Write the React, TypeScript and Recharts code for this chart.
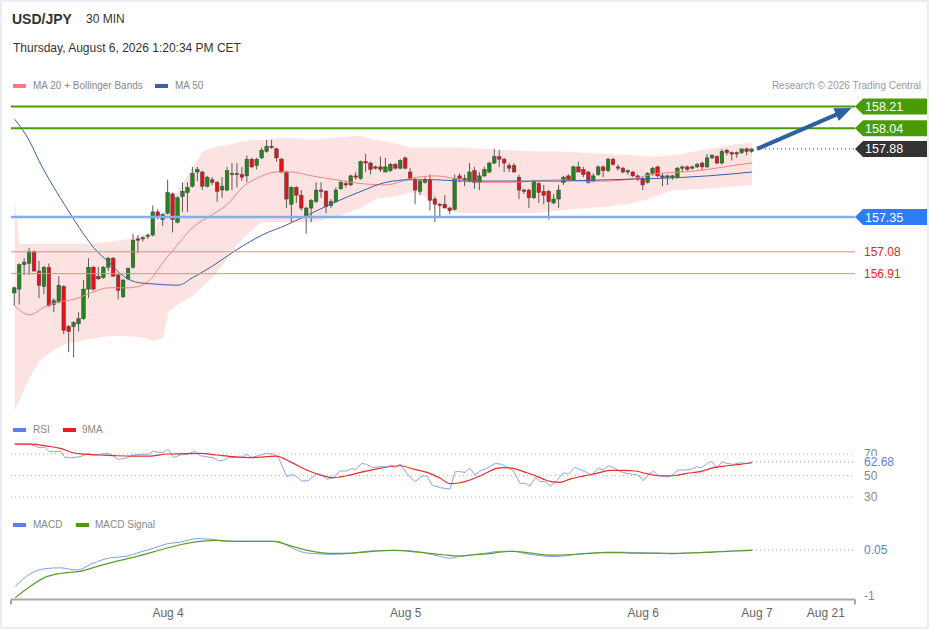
import React from 'react';
import {
    ComposedChart, Bar, Line, Area, XAxis, YAxis, ReferenceLine,
} from 'recharts';

// 30-minute candles, oldest first (150 bars)
const opens = [
    156.76, 156.79, 156.98, 156.99, 157.08, 156.93, 156.81, 156.96, 156.67, 156.69,
    156.81, 156.50, 156.50, 156.52, 156.56, 156.79, 156.96, 156.89, 156.88, 156.96,
    157.03, 156.90, 156.73, 156.87, 156.96, 157.18, 157.18, 157.20, 157.21, 157.39,
    157.33, 157.38, 157.53, 157.31, 157.51, 157.54, 157.59, 157.70, 157.70, 157.59,
    157.64, 157.62, 157.56, 157.56, 157.69, 157.68, 157.68, 157.67, 157.80, 157.75,
    157.81, 157.86, 157.90, 157.88, 157.80, 157.70, 157.45, 157.58, 157.52, 157.35,
    157.42, 157.47, 157.56, 157.55, 157.44, 157.47, 157.57, 157.61, 157.60, 157.67,
    157.65, 157.78, 157.77, 157.73, 157.74, 157.70, 157.71, 157.76, 157.73, 157.81,
    157.70, 157.64, 157.55, 157.62, 157.64, 157.49, 157.45, 157.45, 157.42, 157.41,
    157.67, 157.65, 157.63, 157.71, 157.62, 157.67, 157.70, 157.77, 157.82, 157.80,
    157.75, 157.75, 157.66, 157.56, 157.56, 157.50, 157.61, 157.55, 157.55, 157.46,
    157.49, 157.62, 157.67, 157.64, 157.74, 157.72, 157.70, 157.63, 157.68, 157.74,
    157.71, 157.80, 157.74, 157.73, 157.71, 157.70, 157.67, 157.65, 157.62, 157.69,
    157.74, 157.67, 157.66, 157.66, 157.66, 157.73, 157.74, 157.73, 157.74, 157.77,
    157.74, 157.81, 157.82, 157.77, 157.87, 157.85, 157.85, 157.85, 157.88, 157.86,
];
const highs = [
    156.81, 156.99, 157.03, 157.11, 157.09, 157.01, 156.97, 156.99, 156.72, 156.89,
    156.82, 156.51, 156.54, 156.61, 156.86, 157.03, 156.97, 156.96, 156.97, 157.04,
    157.04, 156.91, 156.87, 156.96, 157.22, 157.21, 157.20, 157.22, 157.44, 157.41,
    157.38, 157.64, 157.54, 157.51, 157.62, 157.62, 157.74, 157.74, 157.71, 157.67,
    157.66, 157.63, 157.66, 157.74, 157.77, 157.77, 157.74, 157.83, 157.81, 157.81,
    157.89, 157.95, 157.95, 157.89, 157.81, 157.71, 157.59, 157.59, 157.56, 157.43,
    157.49, 157.62, 157.62, 157.56, 157.49, 157.58, 157.63, 157.63, 157.68, 157.70,
    157.79, 157.84, 157.78, 157.75, 157.82, 157.81, 157.77, 157.77, 157.80, 157.82,
    157.73, 157.66, 157.64, 157.66, 157.68, 157.51, 157.46, 157.52, 157.43, 157.68,
    157.69, 157.68, 157.77, 157.74, 157.70, 157.74, 157.78, 157.88, 157.87, 157.81,
    157.77, 157.77, 157.68, 157.57, 157.57, 157.63, 157.62, 157.60, 157.56, 157.53,
    157.60, 157.67, 157.68, 157.75, 157.78, 157.74, 157.71, 157.69, 157.75, 157.75,
    157.81, 157.81, 157.76, 157.74, 157.72, 157.71, 157.68, 157.66, 157.70, 157.74,
    157.75, 157.69, 157.68, 157.68, 157.74, 157.75, 157.75, 157.75, 157.77, 157.78,
    157.84, 157.84, 157.83, 157.88, 157.88, 157.86, 157.86, 157.88, 157.89, 157.88,
];
const lows = [
    156.66, 156.67, 156.90, 156.90, 156.93, 156.72, 156.75, 156.65, 156.61, 156.68,
    156.44, 156.30, 156.26, 156.46, 156.55, 156.72, 156.78, 156.86, 156.87, 156.93,
    156.89, 156.71, 156.72, 156.86, 156.95, 157.07, 157.16, 157.18, 157.20, 157.33,
    157.28, 157.37, 157.23, 157.30, 157.39, 157.39, 157.58, 157.63, 157.56, 157.58,
    157.60, 157.47, 157.50, 157.55, 157.56, 157.58, 157.63, 157.62, 157.73, 157.72,
    157.80, 157.85, 157.88, 157.78, 157.69, 157.42, 157.31, 157.46, 157.40, 157.22,
    157.31, 157.46, 157.50, 157.38, 157.42, 157.46, 157.56, 157.58, 157.59, 157.64,
    157.64, 157.70, 157.68, 157.72, 157.70, 157.70, 157.70, 157.72, 157.72, 157.72,
    157.64, 157.45, 157.52, 157.61, 157.40, 157.31, 157.35, 157.42, 157.37, 157.40,
    157.62, 157.59, 157.62, 157.57, 157.56, 157.66, 157.69, 157.76, 157.74, 157.70,
    157.70, 157.70, 157.49, 157.53, 157.42, 157.49, 157.46, 157.45, 157.33, 157.45,
    157.42, 157.60, 157.63, 157.63, 157.70, 157.66, 157.61, 157.62, 157.67, 157.66,
    157.70, 157.75, 157.71, 157.69, 157.68, 157.66, 157.63, 157.56, 157.61, 157.67,
    157.66, 157.59, 157.60, 157.64, 157.65, 157.70, 157.71, 157.72, 157.73, 157.71,
    157.73, 157.80, 157.76, 157.76, 157.83, 157.79, 157.81, 157.84, 157.83, 157.85,
];
const closes = [
    156.80, 156.98, 157.00, 157.08, 156.93, 156.82, 156.96, 156.66, 156.70, 156.82,
    156.47, 156.46, 156.53, 156.56, 156.79, 156.96, 156.79, 156.87, 156.96, 157.03,
    156.89, 156.78, 156.86, 156.95, 157.17, 157.17, 157.19, 157.21, 157.39, 157.35,
    157.37, 157.54, 157.33, 157.50, 157.55, 157.58, 157.69, 157.72, 157.59, 157.66,
    157.62, 157.55, 157.59, 157.71, 157.68, 157.69, 157.66, 157.80, 157.74, 157.80,
    157.87, 157.90, 157.89, 157.81, 157.70, 157.49, 157.58, 157.52, 157.42, 157.42,
    157.48, 157.56, 157.55, 157.43, 157.47, 157.56, 157.62, 157.60, 157.67, 157.66,
    157.78, 157.77, 157.72, 157.74, 157.72, 157.74, 157.76, 157.73, 157.79, 157.73,
    157.65, 157.56, 157.63, 157.64, 157.48, 157.45, 157.44, 157.42, 157.40, 157.65,
    157.65, 157.64, 157.70, 157.62, 157.67, 157.72, 157.77, 157.82, 157.80, 157.77,
    157.73, 157.70, 157.56, 157.55, 157.50, 157.63, 157.54, 157.52, 157.47, 157.49,
    157.56, 157.66, 157.64, 157.74, 157.70, 157.68, 157.62, 157.67, 157.74, 157.71,
    157.80, 157.76, 157.73, 157.70, 157.70, 157.67, 157.65, 157.60, 157.69, 157.73,
    157.67, 157.66, 157.67, 157.67, 157.73, 157.74, 157.72, 157.74, 157.76, 157.74,
    157.81, 157.83, 157.77, 157.86, 157.85, 157.84, 157.84, 157.88, 157.86, 157.88,
];

// MA 20 + Bollinger bands and MA 50, read at selected bar indexes
const bandIdx = [0, 1, 3, 5, 8, 10, 15, 20, 24, 26, 28, 30, 31, 33, 36, 38, 40, 43, 45, 48, 50, 55, 60, 65, 70, 73, 75, 78, 80, 82, 85, 88, 90, 95, 100, 105, 110, 115, 120, 125, 128, 130, 133, 135, 140, 145, 149];
const bandUpper = [157.49, 157.14, 157.14, 157.14, 157.14, 157.14, 157.14, 157.16, 157.19, 157.21, 157.24, 157.38, 157.45, 157.55, 157.74, 157.86, 157.89, 157.91, 157.93, 157.95, 157.95, 157.97, 157.95, 157.97, 157.98, 157.95, 157.94, 157.91, 157.89, 157.89, 157.89, 157.89, 157.89, 157.88, 157.87, 157.86, 157.86, 157.85, 157.84, 157.83, 157.82, 157.82, 157.83, 157.84, 157.88, 157.91, 157.93];
const bandLower = [155.85, 155.93, 156.10, 156.23, 156.32, 156.36, 156.40, 156.43, 156.42, 156.41, 156.39, 156.41, 156.61, 156.67, 156.74, 156.81, 156.88, 157.03, 157.14, 157.25, 157.31, 157.31, 157.31, 157.35, 157.42, 157.49, 157.50, 157.52, 157.54, 157.53, 157.45, 157.40, 157.38, 157.38, 157.38, 157.38, 157.40, 157.42, 157.43, 157.46, 157.49, 157.52, 157.56, 157.56, 157.57, 157.59, 157.60];
const ma20Idx = [0, 3, 6, 9, 12, 16, 19, 23, 25, 27, 30, 33, 36, 40, 43, 46, 50, 53, 56, 60, 65, 70, 75, 80, 85, 90, 95, 100, 105, 110, 115, 120, 125, 130, 135, 140, 145, 149];
const ma20 = [156.66, 156.59, 156.65, 156.69, 156.71, 156.77, 156.80, 156.80, 156.81, 156.85, 157.00, 157.14, 157.27, 157.37, 157.45, 157.58, 157.67, 157.70, 157.70, 157.67, 157.64, 157.61, 157.60, 157.65, 157.67, 157.64, 157.62, 157.62, 157.63, 157.64, 157.63, 157.63, 157.65, 157.69, 157.70, 157.72, 157.75, 157.77];
const ma50Idx = [0, 3, 5, 7, 10, 13, 16, 19, 22, 25, 28, 33, 36, 40, 45, 50, 55, 60, 65, 70, 75, 80, 85, 90, 100, 110, 120, 130, 140, 149];
const ma50 = [158.11, 157.94, 157.78, 157.64, 157.45, 157.27, 157.11, 157.00, 156.89, 156.84, 156.83, 156.82, 156.88, 156.97, 157.10, 157.21, 157.29, 157.38, 157.47, 157.55, 157.62, 157.64, 157.64, 157.63, 157.63, 157.63, 157.64, 157.65, 157.67, 157.70];

// projected move towards the first target
const arrowIdx = [150, 168];
const arrowVal = [157.88, 158.18];

// key levels
const resistances = [158.21, 158.04];
const pivot = 157.35;
const supports = [157.08, 156.91];
const lastPrice = 157.88;

// RSI and its 9-period average
const rsiIdx = [0, 3.1, 4.8, 6.1, 7, 8.1, 9.2, 10.2, 11.5, 13.2, 14.9, 15.9, 17.2, 18.9, 19.9, 20.9, 22.3, 24, 25.3, 27, 28, 29, 30, 31, 32.1, 33.4, 34.8, 36.4, 37.5, 38.8, 40.1, 41.2, 42.2, 43.5, 44.9, 45.9, 46.9, 47.9, 49.2, 50.9, 52.3, 53.3, 55, 56, 57, 58, 59.3, 61, 62, 63.1, 64.4, 65.7, 67.1, 68.1, 68.8, 70.1, 71.1, 72.2, 73.8, 75.2, 76.2, 76.9, 77.9, 79.5, 80.9, 82.3, 83.3, 84.3, 86, 88, 89, 90, 91, 92, 93, 94, 95.4, 97.1, 98.4, 99.4, 100.8, 102.1, 103.1, 104.1, 105.2, 106.2, 107.2, 108.2, 109.5, 110.9, 111.9, 113.2, 114.2, 115.6, 116.6, 117.9, 118.9, 119.9, 121, 122.4, 123.7, 125, 126, 127, 128, 129.1, 130.1, 131.1, 132.4, 134.1, 135.5, 136.8, 137.8, 138.8, 140.2, 140.9, 141.9, 142.9, 143.9, 145.2, 146.6, 147.9, 149];
const rsi = [79.3, 79.3, 76.2, 76.2, 72.2, 72.2, 72.8, 66.6, 66.6, 67.5, 70.6, 69.1, 69.7, 70.6, 68.4, 65.0, 66.0, 69.1, 69.7, 69.7, 72.8, 71.6, 71.6, 74.3, 66.6, 69.1, 69.7, 72.8, 68.4, 67.5, 66.6, 63.5, 64.4, 66.9, 66.6, 66.6, 69.7, 66.9, 68.4, 70.6, 70.0, 66.6, 48.9, 51.1, 48.9, 44.9, 45.2, 51.7, 51.1, 46.4, 48.0, 54.2, 54.2, 56.7, 55.1, 61.3, 60.4, 57.6, 58.2, 58.2, 59.8, 57.3, 60.7, 50.5, 44.3, 49.5, 49.5, 41.2, 38.7, 37.4, 53.6, 53.6, 52.9, 56.7, 50.5, 54.2, 56.7, 61.3, 60.4, 58.2, 54.2, 42.7, 42.7, 40.2, 48.0, 44.3, 44.3, 40.2, 44.9, 52.6, 51.4, 57.6, 55.7, 52.9, 50.5, 56.7, 55.1, 59.1, 57.3, 53.6, 52.0, 51.1, 50.5, 45.2, 50.5, 54.2, 49.8, 48.9, 48.9, 55.1, 55.1, 56.0, 58.2, 57.3, 62.2, 62.9, 56.7, 62.9, 61.3, 60.4, 61.9, 61.3, 62.68];
const rsiMaIdx = [0, 3.1, 6.5, 9.2, 11.8, 14.6, 17.2, 20.6, 24, 27.3, 30.7, 34.1, 37.5, 40.8, 44.2, 47.6, 50.9, 52.9, 55.6, 59, 61.7, 64.4, 67.1, 70.5, 73.8, 77.9, 80.6, 83.3, 86, 88, 90, 92, 94, 96.1, 97.4, 98.7, 100.8, 102.8, 104.8, 106.8, 108.5, 110.2, 112.2, 114.9, 117.6, 120.3, 123, 125.4, 127.7, 130.4, 133.1, 135.8, 138.5, 141.2, 143.9, 146.6, 149];
const rsiMa = [79.3, 79.3, 77.4, 75.3, 71.2, 69.7, 69.1, 68.4, 68.1, 68.1, 70.0, 70.3, 70.6, 69.1, 67.5, 66.6, 67.5, 68.1, 62.9, 55.1, 50.5, 48.0, 49.8, 53.6, 56.7, 59.1, 56.0, 52.9, 47.4, 42.4, 43.3, 45.8, 49.5, 54.2, 56.7, 57.3, 56.7, 53.6, 50.5, 46.7, 44.3, 43.6, 46.7, 49.5, 52.0, 54.8, 54.8, 54.2, 51.7, 49.8, 49.8, 52.0, 53.6, 57.3, 59.1, 60.4, 61.9];
const rsiLevels = [70, 50, 30];
const rsiLast = 62.68;

// MACD and signal
const macdIdx = [0.1, 3.1, 6.1, 9.2, 12.5, 15.9, 19.3, 22.3, 25.3, 28, 30.7, 33.4, 36.8, 39.5, 42.8, 46.2, 49.6, 52.9, 56.3, 59, 64.4, 68.4, 71.1, 75.2, 78.5, 81.9, 85.3, 88, 90, 92.7, 95.4, 98.1, 100.8, 103.5, 106.2, 108.9, 111.6, 114.2, 116.9, 119.6, 122.3, 125, 127.7, 130.4, 133.1, 135.8, 138.5, 141.2, 143.9, 146.6, 149];
const macd = [-0.79, -0.50, -0.38, -0.36, -0.41, -0.25, -0.13, -0.10, 0.00, 0.09, 0.19, 0.23, 0.31, 0.30, 0.25, 0.25, 0.25, 0.25, 0.08, -0.02, -0.05, -0.02, 0.02, 0.04, 0.04, 0.00, -0.08, -0.14, -0.09, -0.06, -0.02, 0.02, 0.02, -0.04, -0.08, -0.10, -0.08, -0.04, -0.02, 0.00, 0.00, -0.01, -0.02, -0.03, -0.04, -0.02, -0.01, 0.01, 0.02, 0.04, 0.05];
const signalIdx = [0.1, 3.1, 6.1, 9.2, 13.2, 17.2, 21.3, 25.3, 29.4, 33.4, 37.5, 40.8, 44.2, 47.6, 52.3, 55.6, 59.7, 64.4, 68.4, 72.5, 76.5, 79.9, 83.3, 86.6, 90, 92.7, 95.4, 98.1, 100.8, 103.5, 106.2, 108.9, 111.6, 114.2, 116.9, 119.6, 122.3, 125, 127.7, 130.4, 133.1, 135.8, 138.5, 141.2, 143.9, 146.6, 149];
const signal = [-1.05, -0.79, -0.58, -0.49, -0.44, -0.31, -0.19, -0.08, 0.05, 0.17, 0.25, 0.27, 0.25, 0.25, 0.25, 0.15, 0.03, -0.03, -0.02, 0.02, 0.04, 0.02, -0.02, -0.06, -0.09, -0.06, -0.04, 0.00, 0.02, -0.01, -0.05, -0.07, -0.06, -0.04, -0.02, -0.01, -0.01, -0.02, -0.02, -0.02, -0.03, -0.02, -0.01, 0.00, 0.02, 0.03, 0.04];
const macdLast = 0.05;

// x axis (bar index)
const tickIdx = [31, 79, 127, 150, 163.9];
const tickLabels = ['Aug 4', 'Aug 5', 'Aug 6', 'Aug 7', 'Aug 21'];

const W = 929;
const H = 629;
const X_DOMAIN: [number, number] = [-0.75, 169.8];
const FONT = '"Liberation Sans", Arial, Helvetica, sans-serif';

// Merge several (index, value) series into one row table keyed by bar index
function mergeRows(base: any[], series: [string, number[], number[]][]) {
    const map = new Map<number, any>();
    base.forEach((r) => map.set(r.i, { ...r }));
    series.forEach(([key, idx, vals]) => idx.forEach((i, k) => {
        const row = map.get(i) ?? { i };
        row[key] = vals[k];
        map.set(i, row);
    }));
    return [...map.values()].sort((a, b) => a.i - b.i);
}

const candleRows = opens.map((o, k) => ({ i: k, o, h: highs[k], l: lows[k], c: closes[k] }));
const mainRows = mergeRows(candleRows, [
    ['up', bandIdx, bandUpper],
    ['lo', bandIdx, bandLower],
    ['ma20', ma20Idx, ma20],
    ['ma50', ma50Idx, ma50],
    ['arrow', arrowIdx, arrowVal],
]);
const rsiRows = mergeRows([], [['rsi', rsiIdx, rsi], ['rsiMa', rsiMaIdx, rsiMa]]);
const macdRows = mergeRows([], [['macd', macdIdx, macd], ['signal', signalIdx, signal]]);

// Candle drawn inside the [low, high] bar the library positions for us
function Candle(props: any) {
    const { x, y, width, height, payload } = props;
    if (payload?.o == null || !(height > 0)) return null;
    const { o, h, l, c } = payload;
    const toY = (v: number) => y + ((h - v) / (h - l)) * height;
    const cx = x + width / 2;
    const top = toY(Math.max(o, c));
    const bot = toY(Math.min(o, c));
    return (
        <g>
            <line x1={cx} x2={cx} y1={y} y2={y + height} stroke="#5a5a5a" strokeWidth={1} />
            <rect
                x={cx - 1.8} y={top} width={3.6} height={Math.max(bot - top, 1)}
                fill={c >= o ? '#22841b' : '#e5121a'} stroke="#444" strokeWidth={0.5}
            />
        </g>
    );
}

// Price tag with a pointed left edge, placed just right of the plot
function Tag({ viewBox, text, bg }: any) {
    const left = viewBox.x + viewBox.width;
    const cy = viewBox.y;
    return (
        <g>
            <path d={`M${left},${cy} L${left + 8},${cy - 8} H${left + 72} V${cy + 8} H${left + 8} Z`} fill={bg} />
            <text x={left + 10} y={cy} dy="0.36em" fill="#fff" fontSize={12.5}>{text}</text>
        </g>
    );
}

function SideText({ viewBox, text, color, clear }: any) {
    const x = viewBox.x + viewBox.width + 9;
    const cy = viewBox.y;
    return (
        <g>
            {clear && <rect x={x - 1} y={cy - 6} width={36} height={13} fill="#fff" />}
            <text x={x} y={cy} dy="0.36em" fill={color} fontSize={12}>{text}</text>
        </g>
    );
}

function DateTick({ x, y, payload }: any) {
    const k = tickIdx.indexOf(payload.value);
    if (k < 0) return <line x1={x} x2={x} y1={y} y2={y + 5} stroke="#a8a8a8" strokeWidth={2} />;
    return <text x={x} y={y} dy={17} textAnchor="middle" fill="#666" fontSize={12}>{tickLabels[k]}</text>;
}

function Swatch({ left, top, color }: { left: number; top: number; color: string }) {
    return <div style={{ position: 'absolute', left, top, width: 13, height: 4, background: color }} />;
}

function Txt({ left, top, size, color, children, bold, right }: any) {
    return (
        <div style={{
            position: 'absolute', left, right, top, fontSize: size, lineHeight: `${size}px`,
            color, fontWeight: bold ? 700 : 400, whiteSpace: 'nowrap',
        }}>{children}</div>
    );
}

const layer: React.CSSProperties = { position: 'absolute', left: 0, top: 0 };

export default function App() {
    return (
        <div style={{ position: 'relative', width: W, height: H, background: '#fff', fontFamily: FONT, overflow: 'hidden' }}>
            <style>{'body{margin:0}'}</style>
            <svg width={0} height={0} style={{ position: 'absolute' }}>
                <defs>
                    <marker id="tgtArrow" viewBox="0 0 17 14" markerWidth={17} markerHeight={14} refX={11} refY={7} orient="auto" markerUnits="userSpaceOnUse">
                        <path d="M0,0 L17,7 L0,14 Z" fill="#2f5f9f" />
                    </marker>
                </defs>
            </svg>

            {/* header */}
            <Txt left={12} top={12} size={14} color="#333" bold>USD/JPY</Txt>
            <Txt left={86} top={13} size={12} color="#333">30 MIN</Txt>
            <Txt left={13} top={42} size={12} color="#333">Thursday, August 6, 2026 1:20:34 PM CET</Txt>
            <Swatch left={13} top={84} color="#f77b7b" />
            <Txt left={33} top={81} size={10} color="#888">MA 20 + Bollinger Bands</Txt>
            <Swatch left={155} top={84} color="#3b5fa6" />
            <Txt left={175} top={81} size={10} color="#888">MA 50</Txt>
            <Txt right={8} top={81} size={10} color="#999">Research © 2026 Trading Central</Txt>

            <Swatch left={13} top={428} color="#5b82e0" />
            <Txt left={33} top={425} size={10} color="#888">RSI</Txt>
            <Swatch left={63} top={428} color="#ee1c1c" />
            <Txt left={82} top={425} size={10} color="#888">9MA</Txt>

            <Swatch left={13} top={523} color="#5b82e0" />
            <Txt left={33} top={520} size={10} color="#888">MACD</Txt>
            <Swatch left={76} top={523} color="#4c9a10" />
            <Txt left={95} top={520} size={10} color="#888">MACD Signal</Txt>

            {/* price panel */}
            <div style={layer}>
                <ComposedChart width={W} height={H} data={mainRows} margin={{ top: 100, bottom: H - 410, left: 11, right: 74 }}>
                    <XAxis dataKey="i" type="number" domain={X_DOMAIN} allowDataOverflow hide />
                    <YAxis hide domain={[155.85, 158.26]} allowDataOverflow />
                    <Area
                        dataKey={(d: any) => (d.up != null ? [d.lo, d.up] : undefined)}
                        type="linear" stroke="none" fill="#fde2e2" fillOpacity={1}
                        connectNulls dot={false} activeDot={false} isAnimationActive={false}
                    />
                    <Line dataKey="ma20" type="monotone" stroke="#f48484" strokeWidth={1} dot={false} connectNulls isAnimationActive={false} />
                    <Line dataKey="ma50" type="monotone" stroke="#3b5fa6" strokeWidth={1} dot={false} connectNulls isAnimationActive={false} />
                    {resistances.map((v) => (
                        <ReferenceLine key={v} y={v} stroke="#4a9a08" strokeWidth={2} label={<Tag text={v.toFixed(2)} bg="#4a9c06" />} />
                    ))}
                    <ReferenceLine y={pivot} stroke="#86abf2" strokeWidth={2.5} label={<Tag text={pivot.toFixed(2)} bg="#2f7cf6" />} />
                    {supports.map((v) => (
                        <ReferenceLine key={v} y={v} stroke="#f28888" strokeWidth={1} label={<SideText text={v.toFixed(2)} color="#e8261c" />} />
                    ))}
                    <ReferenceLine
                        segment={[{ x: 150, y: lastPrice }, { x: X_DOMAIN[1], y: lastPrice }]}
                        stroke="#333" strokeDasharray="1 3" label={<Tag text={lastPrice.toFixed(2)} bg="#333" />}
                    />
                    <Bar dataKey={(d: any) => (d.h != null ? [d.l, d.h] : undefined)} barSize={4} shape={Candle} isAnimationActive={false} />
                    <Line
                        dataKey="arrow" stroke="#2f5f9f" strokeWidth={4} dot={false} activeDot={false}
                        connectNulls markerEnd="url(#tgtArrow)" isAnimationActive={false}
                    />
                </ComposedChart>
            </div>

            {/* RSI panel */}
            <div style={layer}>
                <ComposedChart width={W} height={H} data={rsiRows} margin={{ top: 437.9, bottom: H - 502.4, left: 11, right: 74 }}>
                    <XAxis dataKey="i" type="number" domain={X_DOMAIN} allowDataOverflow hide />
                    <YAxis hide domain={[25, 85]} allowDataOverflow />
                    {rsiLevels.map((v) => (
                        <ReferenceLine key={v} y={v} stroke="#bbb" strokeDasharray="1 3" label={<SideText text={String(v)} color="#888" />} />
                    ))}
                    <ReferenceLine
                        segment={[{ x: 149, y: rsiLast }, { x: X_DOMAIN[1], y: rsiLast }]}
                        stroke="#7fa2ec" strokeDasharray="1 3" label={<SideText text={rsiLast.toFixed(2)} color="#5b82e0" clear />}
                    />
                    <Line dataKey="rsi" type="linear" stroke="#86a6ec" strokeWidth={1} dot={false} connectNulls isAnimationActive={false} />
                    <Line dataKey="rsiMa" type="monotone" stroke="#ee2a2a" strokeWidth={1.2} dot={false} connectNulls isAnimationActive={false} />
                </ComposedChart>
            </div>

            {/* MACD panel */}
            <div style={layer}>
                <ComposedChart width={W} height={H} data={macdRows} margin={{ top: 530.4, bottom: H - 599.6 - 24, left: 11, right: 74 }}>
                    <XAxis
                        dataKey="i" type="number" domain={X_DOMAIN} allowDataOverflow height={24}
                        ticks={[X_DOMAIN[0], ...tickIdx, X_DOMAIN[1]]} interval={0}
                        tick={<DateTick />} tickLine={false} tickSize={0} tickMargin={0}
                        axisLine={{ stroke: '#a8a8a8', strokeWidth: 2 }}
                    />
                    <YAxis hide domain={[-1.09, 0.5]} allowDataOverflow />
                    <ReferenceLine y={-1} stroke="none" label={<SideText text="-1" color="#888" />} />
                    <ReferenceLine
                        segment={[{ x: 149, y: macdLast }, { x: X_DOMAIN[1], y: macdLast }]}
                        stroke="#7fa2ec" strokeDasharray="1 3" label={<SideText text={macdLast.toFixed(2)} color="#5b82e0" />}
                    />
                    <Line dataKey="macd" type="monotone" stroke="#7d9ee8" strokeWidth={1} dot={false} connectNulls isAnimationActive={false} />
                    <Line dataKey="signal" type="monotone" stroke="#5a9e2a" strokeWidth={1.2} dot={false} connectNulls isAnimationActive={false} />
                </ComposedChart>
            </div>

            <div style={{ ...layer, width: W, height: H, boxSizing: 'border-box', border: '2px solid #e8eef1', pointerEvents: 'none' }} />
        </div>
    );
}
